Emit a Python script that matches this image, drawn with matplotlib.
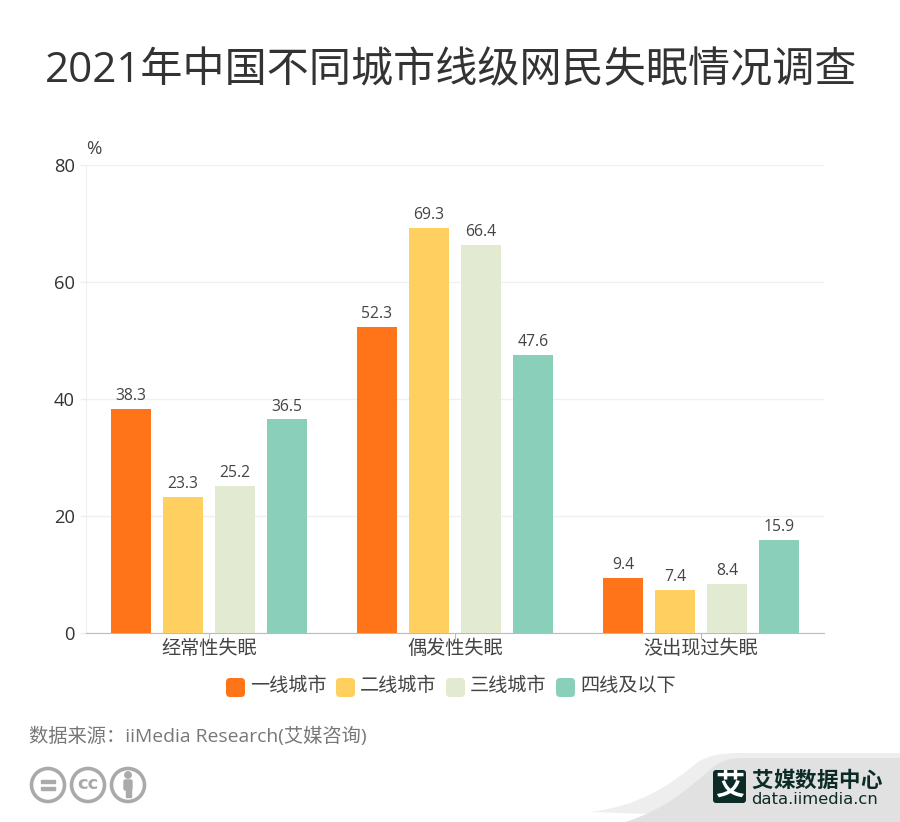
import matplotlib
matplotlib.use("Agg")
import matplotlib.pyplot as plt
import numpy as np
from matplotlib.patches import Circle, FancyBboxPatch, PathPatch, Rectangle
from matplotlib.path import Path

plt.rcParams["font.family"] = ["Open Sans", "Noto Sans CJK SC", "DejaVu Sans"]

categories = ["经常性失眠", "偶发性失眠", "没出现过失眠"]
series_names = ["一线城市", "二线城市", "三线城市", "四线及以下"]
tier1 = [38.3, 52.3, 9.4]
tier2 = [23.3, 69.3, 7.4]
tier3 = [25.2, 66.4, 8.4]
tier4 = [36.5, 47.6, 15.9]
yticks = [0, 20, 40, 60, 80]
colors = ["#ff7319", "#ffcf60", "#e2ebd1", "#8acfba"]

W, H = 900, 822
fig = plt.figure(figsize=(W / 100, H / 100), dpi=100, facecolor="white")

# pixel-space layer for the title, legend, footer and logo
bg = fig.add_axes([0, 0, 1, 1], zorder=0)
bg.set_xlim(0, W)
bg.set_ylim(H, 0)
bg.axis("off")

ax = fig.add_axes([86 / W, 1 - 633 / H, 738 / W, 468 / H], zorder=1)
ax.patch.set_alpha(0)

x = np.arange(len(categories))
bar_w = 40 / 246
step = 52 / 246
for i, (vals, color) in enumerate(zip([tier1, tier2, tier3, tier4], colors)):
    bars = ax.bar(x + (i - 1.5) * step, vals, bar_w, color=color, zorder=3)
    ax.bar_label(bars, labels=[f"{v:.1f}" for v in vals], padding=3.3,
                 fontsize=11.3, color="#444444")

ax.set_xlim(-0.5, 2.5)
ax.set_ylim(0, 80)
ax.set_yticks(yticks)
ax.set_xticks(x, categories)
ax.tick_params(axis="y", length=4, width=1, color="#eeeeee", labelsize=13.2,
               labelcolor="#333333", pad=4)
ax.tick_params(axis="x", length=4, width=0.8, color="#bbbbbb", labelsize=13.8,
               labelcolor="#444444", pad=1)
ax.grid(axis="y", color="#f0f0f0", linewidth=1, zorder=0)
ax.set_axisbelow(True)
for side in ["top", "right"]:
    ax.spines[side].set_visible(False)
ax.spines["left"].set_color("#eeeeee")
ax.spines["bottom"].set_color("#bbbbbb")

bg.text(451, 71, "2021年中国不同城市线级网民失眠情况调查", fontsize=30.3,
        color="#333333", ha="center", va="center")
bg.text(86, 149, "%", fontsize=13.5, color="#444444", va="center")

# legend
for i, (name, color) in enumerate(zip(series_names, colors)):
    left = 226 + i * 110
    bg.add_patch(FancyBboxPatch((left + 3, 681), 13, 13,
                                boxstyle="round,pad=3,rounding_size=4",
                                facecolor=color, edgecolor="none"))
    bg.text(left + 24, 686, name, fontsize=13.8, color="#444444", va="center")

bg.text(29, 736, "数据来源：iiMedia Research(艾媒咨询)", fontsize=13.9,
        color="#777777", va="center")

# licence icons
icon = "#aaaaaa"
for cx in [48, 88, 128]:
    bg.add_patch(Circle((cx, 785), 16.5, facecolor="white", edgecolor=icon, linewidth=2.6))
bg.add_patch(Rectangle((41, 780), 14, 3, color=icon))
bg.add_patch(Rectangle((41, 787), 14, 3, color=icon))
bg.text(88, 784, "cc", fontsize=13, fontweight="bold", color=icon,
        ha="center", va="center", family="DejaVu Sans")
bg.add_patch(Circle((128, 775), 3.2, color=icon))
bg.add_patch(FancyBboxPatch((124.5, 780.5), 7, 9, boxstyle="round,pad=0.5,rounding_size=1.5", color=icon))
bg.add_patch(Rectangle((125.5, 789), 5, 8, color=icon))

# footer swoosh
codes = [Path.MOVETO, Path.CURVE4, Path.CURVE4, Path.CURVE4,
         Path.CURVE4, Path.CURVE4, Path.CURVE4, Path.LINETO, Path.LINETO, Path.CLOSEPOLY]
light = [(590, 812), (640, 806), (670, 785), (698, 762),
         (710, 755), (722, 753), (740, 753), (900, 753), (900, 822), (590, 822)]
dark = [(625, 822), (665, 810), (690, 787), (712, 768),
        (722, 760), (730, 758), (745, 758), (900, 758), (900, 822), (625, 822)]
bg.add_patch(PathPatch(Path(light, codes), facecolor="#eeeeee", edgecolor="none"))
bg.add_patch(PathPatch(Path(dark, codes), facecolor="#e1e1e1", edgecolor="none"))

# logo
ink = "#0c2b27"
bg.add_patch(FancyBboxPatch((715, 772), 29, 29, boxstyle="round,pad=2,rounding_size=3",
                            facecolor=ink, edgecolor="none"))
bg.text(729.5, 787, "艾", fontsize=21, fontweight="bold", color="white", ha="center", va="center")
for i, ch in enumerate("艾媒数据中心"):
    bg.text(762 + i * 21.8, 781, ch, fontsize=15.5, fontweight="bold", color=ink,
            ha="center", va="center")
bg.text(751, 799, "data.iimedia.cn", fontsize=11.8, color=ink, va="center", family="DejaVu Sans")

fig.savefig("out.png", dpi=100)
